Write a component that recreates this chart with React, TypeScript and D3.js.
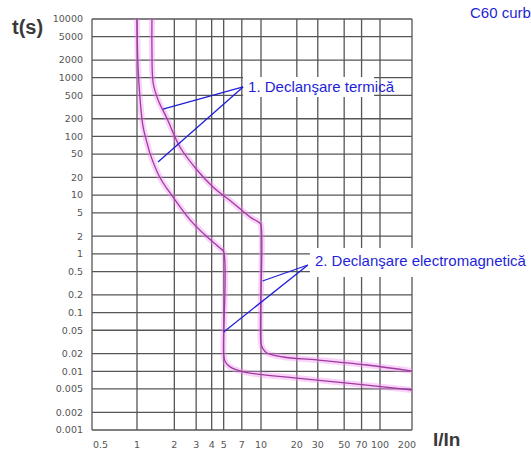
import React from "react";
import * as d3 from "d3";

// ---- data ----
const xTicks = [0.5, 1, 2, 3, 4, 5, 7, 10, 20, 30, 50, 70, 100, 200];
const xTickLabels = ["0.5", "1", "2", "3", "4", "5", "7", "10", "20", "30", "50", "70", "100", "200"];
const yTicks = [10000, 5000, 2000, 1000, 500, 200, 100, 50, 20, 10, 5, 2, 1, 0.5, 0.2, 0.1, 0.05, 0.02, 0.01, 0.005, 0.002, 0.001];
const yTickLabels = ["10000", "5000", "2000", "1000", "500", "200", "100", "50", "20", "10", "5", "2", "1", "0.5", "0.2", "0.1", "0.05", "0.02", "0.01", "0.005", "0.002", "0.001"];

// lower (fast) tripping boundary: I/In and t(s)
const lowerCurveI = [1.0, 1.02, 1.06, 1.12, 1.23, 1.27, 1.53, 1.95, 2.68, 3.67, 4.67, 5.0, 5.0, 5.15, 5.6, 7.2, 21, 56, 200];
const lowerCurveT = [10000, 1500, 420, 145, 66, 52, 20, 9.3, 3.8, 1.95, 1.26, 1.08, 0.019, 0.0145, 0.012, 0.0098, 0.0076, 0.0062, 0.0048];

// upper (slow) tripping boundary
const upperCurveI = [1.32, 1.32, 1.35, 1.48, 1.75, 2.22, 3.05, 4.1, 5.95, 8.15, 9.7, 10, 10, 10.4, 11.2, 15.3, 29.6, 77.7, 200];
const upperCurveT = [10000, 2970, 813, 418, 200, 66, 26.8, 13.8, 7.35, 4.25, 3.4, 3.1, 0.03, 0.024, 0.0205, 0.0175, 0.0156, 0.0128, 0.0101];

const titleText = "C60 curb";
const yAxisTitle = "t(s)";
const xAxisTitle = "I/In";

const thermalLabel = "1. Declanşare termică";
const thermalAnchor: [number, number] = [7.17, 695];
const thermalTargets: [number, number][] = [[1.62, 293], [1.477, 36.7]];

const magneticLabel = "2. Declanşare electromagnetică";
const magneticAnchor: [number, number] = [24.8, 0.646];
const magneticTargets: [number, number][] = [[10.3, 0.345], [5.0, 0.0467]];

// ---- layout ----
const W = 531;
const H = 452;
const LEFT = 92;
const RIGHT = 412;
const TOP = 19;
const BOTTOM = 430;

const BLUE = "#1f1fd8";
const GRID = "#444";

export default function App() {
  const x = d3.scaleLog().domain([0.5, 1, 10, 100, 200]).range([LEFT, 137, 261, 380, RIGHT]);
  const y = d3.scaleLog().domain([0.001, 10000]).range([BOTTOM, TOP]);

  const line = d3
    .line<[number, number]>()
    .x((d) => x(d[0]))
    .y((d) => y(d[1]))
    .curve(d3.curveCatmullRom.alpha(0.5));

  const lowerPts = lowerCurveI.map((v, i) => [v, lowerCurveT[i]] as [number, number]);
  const upperPts = upperCurveI.map((v, i) => [v, upperCurveT[i]] as [number, number]);
  const curves = [lowerPts, upperPts].map((p) => line(p) || "");

  const tickFont = "'DejaVu Sans', sans-serif";
  const labelFont = "'Liberation Sans', Arial, sans-serif";

  const ta = [x(thermalAnchor[0]), y(thermalAnchor[1])];
  const ma = [x(magneticAnchor[0]), y(magneticAnchor[1])];

  return (
    <svg width={W} height={H} style={{ position: "absolute", left: 0, top: 0, background: "#fff" }}>
      <rect x={0} y={0} width={W} height={H} fill="#fff" />
      {/* grid */}
      <g stroke={GRID} strokeWidth={1.3} opacity={0.9}>
        {yTicks.map((t) => (
          <line key={"h" + t} x1={LEFT} x2={RIGHT} y1={y(t)} y2={y(t)} />
        ))}
        {xTicks.map((t) => (
          <line key={"v" + t} x1={x(t)} x2={x(t)} y1={TOP} y2={BOTTOM} />
        ))}
      </g>
      {/* y tick labels */}
      <g fontFamily={tickFont} fontSize={9.5} fill="#555" textAnchor="end">
        {yTicks.map((t, i) => (
          <text key={"yl" + t} x={83} y={y(t)} dy="0.35em">
            {yTickLabels[i]}
          </text>
        ))}
      </g>
      {/* x tick labels */}
      <g fontFamily={tickFont} fontSize={9.5} fill="#555">
        {xTicks.map((t, i) => {
          const last = i === xTicks.length - 1;
          const first = i === 0;
          return (
            <text
              key={"xl" + t}
              x={first ? x(t) + 1 : last ? x(t) + 4 : x(t)}
              y={448}
              textAnchor={first ? "start" : last ? "end" : "middle"}
            >
              {xTickLabels[i]}
            </text>
          );
        })}
      </g>
      {/* axis titles */}
      <text x={12} y={34} fontFamily={labelFont} fontWeight="bold" fontSize={20} fill="#3a3a3a">
        {yAxisTitle}
      </text>
      <text x={433} y={446} fontFamily={labelFont} fontWeight="bold" fontSize={19} fill="#3a3a3a">
        {xAxisTitle}
      </text>
      {/* curves */}
      {curves.map((d, i) => (
        <g key={"c" + i}>
          <path d={d} fill="none" stroke="#f08cf0" strokeOpacity={0.38} strokeWidth={6} strokeLinejoin="round" />
          <path d={d} fill="none" stroke="#a03aa0" strokeWidth={1.3} strokeLinejoin="round" />
        </g>
      ))}
      {/* annotations */}
      <rect x={ta[0]} y={ta[1] - 10} width={131} height={20} fill="#fff" />
      <rect x={ma[0] + 2} y={ma[1] - 17} width={W - ma[0]} height={29} fill="#fff" />
      <g stroke={BLUE} strokeWidth={1.3}>
        {thermalTargets.map((p, i) => (
          <line key={"tl" + i} x1={ta[0]} y1={ta[1]} x2={x(p[0])} y2={y(p[1])} />
        ))}
        {magneticTargets.map((p, i) => (
          <line key={"ml" + i} x1={ma[0]} y1={ma[1]} x2={x(p[0])} y2={y(p[1])} />
        ))}
      </g>
      <g fontFamily={labelFont} fontSize={15} fill={BLUE}>
        <text x={ta[0] + 5} y={ta[1] + 5}>{thermalLabel}</text>
        <text x={ma[0] + 7} y={ma[1] + 1}>{magneticLabel}</text>
        <text x={470} y={18}>{titleText}</text>
      </g>
    </svg>
  );
}
